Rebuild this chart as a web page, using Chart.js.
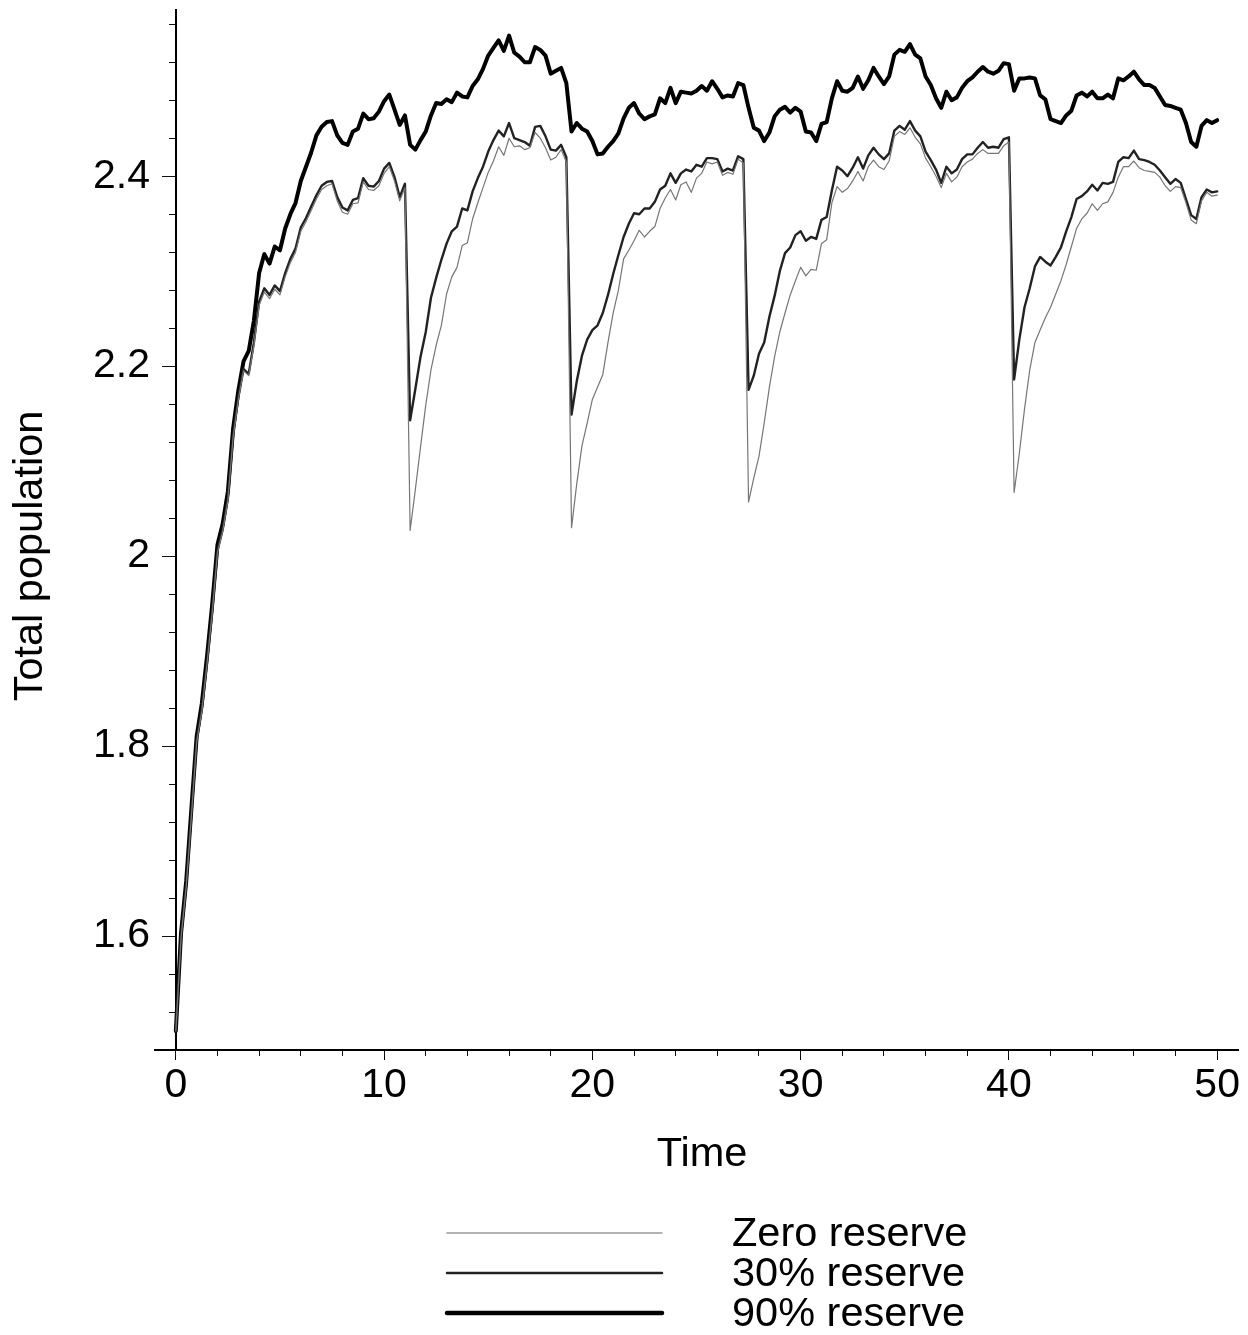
<!DOCTYPE html>
<html><head><meta charset="utf-8">
<script src="https://cdn.jsdelivr.net/npm/chart.js@4.4.1/dist/chart.umd.min.js"></script>
<style>html,body{margin:0;padding:0;background:#fff;}canvas{display:block;}</style>
</head><body>
<canvas id="c" width="1248" height="1335"></canvas>
<script>
const times = [
0,0.25,0.5,0.75,1,1.25,1.5,1.75,2,2.25,2.5,2.75,3,3.25,3.5,3.75,4,4.25,4.5,4.75,
5,5.25,5.5,5.75,6,6.25,6.5,6.75,7,7.25,7.5,7.75,8,8.25,8.5,8.75,9,9.25,9.5,9.75,
10,10.25,10.5,10.75,11,11.25,11.5,11.75,12,12.25,12.5,12.75,13,13.25,13.5,13.75,14,14.25,14.5,14.75,
15,15.25,15.5,15.75,16,16.25,16.5,16.75,17,17.25,17.5,17.75,18,18.25,18.5,18.75,19,19.25,19.5,19.75,
20,20.25,20.5,20.75,21,21.25,21.5,21.75,22,22.25,22.5,22.75,23,23.25,23.5,23.75,24,24.25,24.5,24.75,
25,25.25,25.5,25.75,26,26.25,26.5,26.75,27,27.25,27.5,27.75,28,28.25,28.5,28.75,29,29.25,29.5,29.75,
30,30.25,30.5,30.75,31,31.25,31.5,31.75,32,32.25,32.5,32.75,33,33.25,33.5,33.75,34,34.25,34.5,34.75,
35,35.25,35.5,35.75,36,36.25,36.5,36.75,37,37.25,37.5,37.75,38,38.25,38.5,38.75,39,39.25,39.5,39.75,
40,40.25,40.5,40.75,41,41.25,41.5,41.75,42,42.25,42.5,42.75,43,43.25,43.5,43.75,44,44.25,44.5,44.75,
45,45.25,45.5,45.75,46,46.25,46.5,46.75,47,47.25,47.5,47.75,48,48.25,48.5,48.75,49,49.25,49.5,49.75,
50];

const zeroReserve = [
1.50,1.598,1.652,1.727,1.804,1.837,1.887,1.941,2.004,2.026,2.059,2.125,2.165,2.195,
2.19,2.222,2.264,2.278,2.271,2.281,2.275,2.294,2.309,2.32,2.342,2.352,2.364,2.376,2.386,2.39,2.392,2.374,2.362,2.36,2.371,2.372,2.394,2.386,2.385,2.39,2.403,2.41,2.395,2.374,2.388,
2.027,2.07,2.115,2.159,2.196,2.222,2.243,2.276,2.294,2.304,2.327,2.33,2.355,2.372,2.388,2.404,2.416,2.431,2.422,2.44,2.431,2.432,2.428,2.43,2.446,2.44,2.43,2.417,2.42,2.428,2.415,
2.03,2.076,2.116,2.14,2.165,2.178,2.191,2.225,2.256,2.28,2.313,2.322,2.332,2.343,2.336,2.342,2.347,2.366,2.377,2.386,2.375,2.391,2.394,2.383,2.398,2.403,2.415,2.413,2.415,2.401,2.404,2.402,2.418,2.414,
2.057,2.082,2.105,2.14,2.178,2.21,2.236,2.256,2.275,2.29,2.304,
2.295,2.302,2.301,2.329,2.333,2.372,2.389,2.383,2.387,2.395,2.405,2.395,2.41,2.417,2.41,2.407,2.416,2.442,2.447,2.444,
2.451,2.441,2.434,2.419,2.41,2.4,2.388,2.403,2.394,2.399,2.41,2.415,2.418,2.424,2.428,2.424,2.424,2.424,2.432,2.436,
2.067,2.108,2.155,2.196,2.225,2.238,2.251,2.262,2.276,2.29,2.307,2.326,2.345,2.355,2.361,2.371,2.364,2.371,2.373,2.383,
2.399,2.41,2.41,2.416,2.409,2.406,2.405,2.404,2.399,2.39,2.384,2.389,2.388,2.372,2.354,2.35,2.374,2.383,2.379,2.38];

const reserve30 = [
1.50,1.600,1.654,1.729,1.806,1.839,1.889,1.943,2.006,2.028,2.061,2.127,2.167,2.197,
2.192,2.225,2.268,2.282,2.275,2.285,2.279,2.298,2.313,2.324,2.346,2.356,2.368,2.38,2.39,2.394,2.395,2.378,2.367,2.364,2.375,2.377,2.398,2.39,2.389,2.395,2.408,2.414,2.399,2.378,2.392,
2.143,2.176,2.21,2.236,2.272,2.293,2.312,2.329,2.342,2.347,2.366,2.364,2.384,2.398,2.41,2.426,2.438,2.448,2.442,2.456,2.44,2.438,2.436,2.432,2.452,2.453,2.442,2.428,2.427,2.433,2.42,
2.149,2.184,2.211,2.228,2.238,2.243,2.256,2.275,2.297,2.317,2.336,2.35,2.361,2.36,2.366,2.366,2.373,2.386,2.39,2.403,2.393,2.403,2.407,2.405,2.412,2.41,2.419,2.419,2.418,2.405,2.408,2.406,2.421,2.418,
2.175,2.19,2.213,2.225,2.252,2.274,2.3,2.319,2.325,2.338,2.342,
2.332,2.336,2.334,2.354,2.357,2.385,2.41,2.406,2.4,2.409,2.42,2.408,2.422,2.43,2.423,2.418,2.424,2.448,2.453,2.449,
2.458,2.448,2.442,2.426,2.417,2.407,2.393,2.41,2.403,2.407,2.418,2.423,2.423,2.43,2.436,2.43,2.431,2.43,2.439,2.441,
2.186,2.228,2.262,2.282,2.305,2.315,2.31,2.306,2.315,2.325,2.342,2.357,2.376,2.379,2.384,2.391,2.385,2.393,2.392,2.394,
2.415,2.42,2.419,2.427,2.418,2.417,2.415,2.412,2.406,2.399,2.392,2.397,2.393,2.376,2.359,2.355,2.378,2.386,2.383,2.384];

const reserve90 = [
1.50,1.603,1.658,1.735,1.810,1.845,1.895,1.950,2.012,2.034,2.068,2.134,2.174,2.205,
2.216,2.248,2.298,2.318,2.308,2.326,2.322,2.345,2.36,2.372,2.395,2.41,2.425,2.443,2.452,2.457,2.458,2.443,2.435,2.433,2.447,2.45,2.466,2.46,2.461,2.468,2.479,2.486,2.47,2.454,2.464,
2.433,2.428,2.438,2.447,2.464,2.477,2.476,2.481,2.478,2.488,2.484,2.483,2.495,2.502,2.513,2.527,2.535,2.543,2.532,2.548,2.53,2.526,2.52,2.52,2.536,2.533,2.527,2.508,2.511,2.514,2.498,
2.447,2.456,2.45,2.447,2.437,2.423,2.424,2.431,2.437,2.445,2.461,2.472,2.477,2.466,2.46,2.463,2.465,2.482,2.477,2.493,2.477,2.489,2.488,2.487,2.49,2.495,2.49,2.5,2.492,2.483,2.485,2.484,2.498,2.496,
2.472,2.451,2.448,2.437,2.446,2.463,2.47,2.473,2.467,2.472,2.468,
2.447,2.446,2.437,2.455,2.457,2.482,2.5,2.49,2.489,2.493,2.505,2.492,2.501,2.514,2.505,2.497,2.505,2.528,2.533,2.531,
2.539,2.528,2.524,2.505,2.496,2.482,2.472,2.489,2.48,2.483,2.493,2.5,2.504,2.51,2.515,2.51,2.508,2.511,2.519,2.518,
2.49,2.503,2.503,2.504,2.503,2.485,2.481,2.46,2.458,2.456,2.464,2.469,2.485,2.488,2.484,2.489,2.482,2.482,2.486,2.482,
2.503,2.501,2.505,2.51,2.502,2.496,2.496,2.493,2.484,2.475,2.474,2.472,2.47,2.456,2.436,2.431,2.453,2.459,2.456,2.459];

const seriesLabels = ['Zero reserve', '30% reserve', '90% reserve'];
const xMajorTicks = [0, 10, 20, 30, 40, 50];
const xMinorTicks = [0,2,4,6,8,10,12,14,16,18,20,22,24,26,28,30,32,34,36,38,40,42,44,46,48,50];
const yMajorTicks = [1.6, 1.8, 2, 2.2, 2.4];
const yMinorTicks = [1.48,1.52,1.56,1.6,1.64,1.68,1.72,1.76,1.8,1.84,1.88,1.92,1.96,2,2.04,2.08,2.12,2.16,2.2,2.24,2.28,2.32,2.36,2.4,2.44,2.48,2.52,2.56];
const xTitle = 'Time';
const yTitle = 'Total population';

const FONT = "'Liberation Sans', Arial, Helvetica, sans-serif";
const X_MIN = -1, X_MAX = 51, Y_MIN = 1.48, Y_MAX = 2.575;

function points(vals) { return times.map((t, i) => ({ x: t, y: vals[i] })); }
function setTicks(list) { return (s) => { s.ticks = list.map(v => ({ value: v })); }; }

const decor = {
  id: 'decor',
  afterDraw(chart) {
    const ctx = chart.ctx;
    ctx.save();
    ctx.fillStyle = '#000';
    ctx.font = '41.5px ' + FONT;
    ctx.textAlign = 'center';
    ctx.textBaseline = 'middle';
    ctx.fillText(xTitle, 702, 1155);
    ctx.save();
    ctx.translate(31, 556);
    ctx.rotate(-Math.PI / 2);
    ctx.fillText(yTitle, 0, 0);
    ctx.restore();
    chart.data.datasets.forEach((ds, i) => {
      const y = 1233 + 40 * i;
      ctx.strokeStyle = ds.legendColor;
      ctx.lineWidth = ds.legendWidth;
      ctx.lineCap = 'round';
      ctx.beginPath();
      ctx.moveTo(447, y);
      ctx.lineTo(662, y);
      ctx.stroke();
      ctx.fillStyle = '#000';
      ctx.textAlign = 'left';
      ctx.fillText(ds.label, 732, y + 2);
    });
    ctx.restore();
  }
};

new Chart(document.getElementById('c'), {
  type: 'line',
  data: {
    datasets: [
      { label: seriesLabels[0], data: points(zeroReserve), borderColor: '#767676', borderWidth: 1.2, legendColor: '#999999', legendWidth: 1.5 },
      { label: seriesLabels[1], data: points(reserve30), borderColor: '#222222', borderWidth: 2.4, legendColor: '#222222', legendWidth: 2.5 },
      { label: seriesLabels[2], data: points(reserve90), borderColor: '#000000', borderWidth: 4, legendColor: '#000000', legendWidth: 4.5 }
    ]
  },
  options: {
    responsive: false,
    animation: false,
    devicePixelRatio: 1,
    elements: { point: { radius: 0 }, line: { tension: 0, borderJoinStyle: 'round', borderCapStyle: 'round' } },
    layout: { padding: { top: 10, right: 10, left: 0, bottom: 225 } },
    plugins: { legend: { display: false }, tooltip: { enabled: false } },
    scales: {
      x: {
        type: 'linear', axis: 'x', position: 'bottom', min: X_MIN, max: X_MAX,
        afterBuildTicks: setTicks(xMajorTicks),
        afterFit: (s) => { s.height = 60; s.paddingLeft = 0; s.paddingRight = 0; },
        grid: { display: true, drawOnChartArea: false, drawTicks: true, tickLength: 10, tickColor: '#000', tickWidth: 1 },
        border: { display: true, color: '#000', width: 2 },
        ticks: { color: '#000', font: { family: FONT, size: 41 }, padding: 1, autoSkip: false, maxRotation: 0, callback: (v) => String(v) }
      },
      xm: {
        type: 'linear', axis: 'x', position: { y: Y_MIN }, min: X_MIN, max: X_MAX,
        afterBuildTicks: setTicks(xMinorTicks),
        grid: { display: true, drawOnChartArea: false, drawTicks: true, tickLength: 6, tickColor: '#111', tickWidth: 1 },
        border: { display: false },
        ticks: { display: false }
      },
      y: {
        type: 'linear', axis: 'y', position: 'left', min: Y_MIN, max: Y_MAX,
        afterBuildTicks: setTicks(yMajorTicks),
        afterFit: (s) => { s.width = 155; s.paddingTop = 0; s.paddingBottom = 0; },
        grid: { display: false, drawTicks: false },
        border: { display: false },
        ticks: { color: '#000', font: { family: FONT, size: 41 }, padding: 5, autoSkip: false, callback: (v) => String(v) }
      },
      ym: {
        type: 'linear', axis: 'y', position: { x: 0 }, min: Y_MIN, max: Y_MAX,
        afterBuildTicks: setTicks(yMajorTicks),
        grid: { display: true, drawOnChartArea: false, drawTicks: true, tickLength: 13, tickColor: '#111', tickWidth: 1 },
        border: { display: true, color: '#000', width: 2 },
        ticks: { display: false }
      },
      yn: {
        type: 'linear', axis: 'y', position: { x: 0 }, min: Y_MIN, max: Y_MAX,
        afterBuildTicks: setTicks(yMinorTicks),
        grid: { display: true, drawOnChartArea: false, drawTicks: true, tickLength: 7, tickColor: '#111', tickWidth: 1 },
        border: { display: false },
        ticks: { display: false }
      }
    }
  },
  plugins: [decor]
});
</script>
</body></html>
